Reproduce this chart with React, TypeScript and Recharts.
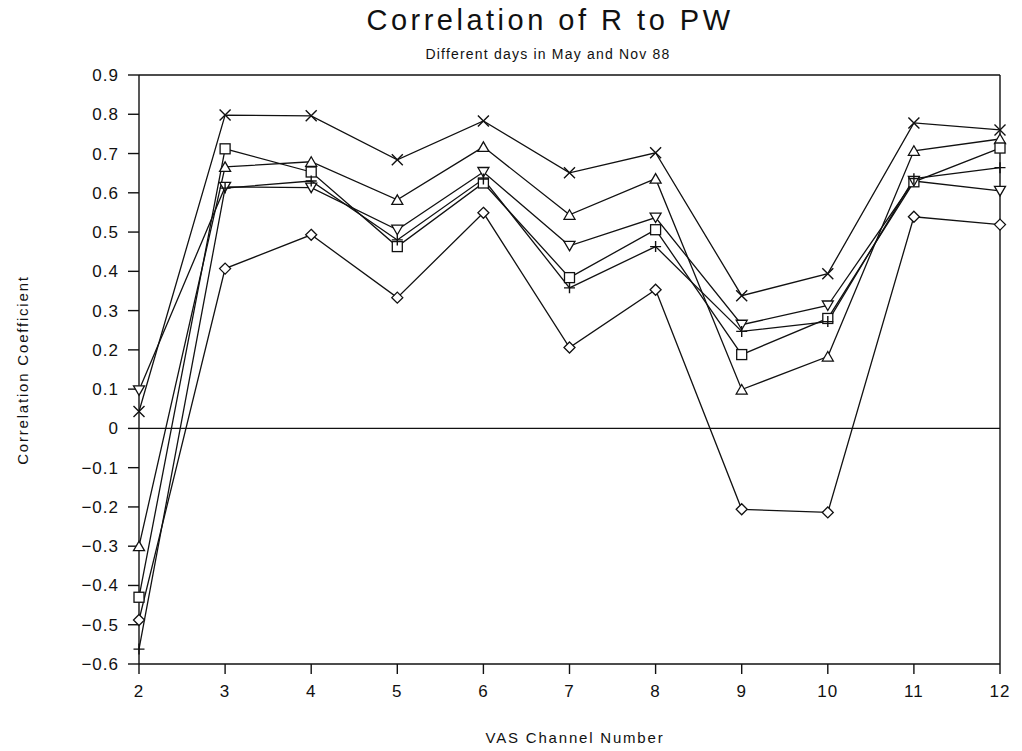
import React from "react";
import { LineChart, Line, XAxis, YAxis, ReferenceLine } from "recharts";

const channels = [2, 3, 4, 5, 6, 7, 8, 9, 10, 11, 12];
const crossVals = [0.043, 0.798, 0.796, 0.684, 0.783, 0.651, 0.702, 0.338, 0.394, 0.778, 0.76];
const triUpVals = [-0.3, 0.666, 0.679, 0.582, 0.717, 0.544, 0.636, 0.099, 0.183, 0.707, 0.737];
const squareVals = [-0.43, 0.712, 0.653, 0.463, 0.625, 0.384, 0.506, 0.188, 0.28, 0.628, 0.714];
const triDownVals = [0.097, 0.615, 0.613, 0.506, 0.653, 0.465, 0.537, 0.264, 0.313, 0.63, 0.605];
const plusVals = [-0.562, 0.612, 0.63, 0.48, 0.635, 0.358, 0.463, 0.247, 0.272, 0.636, 0.664];
const diamondVals = [-0.488, 0.407, 0.493, 0.333, 0.549, 0.206, 0.353, -0.206, -0.214, 0.539, 0.519];

const yTicks = [0.9, 0.8, 0.7, 0.6, 0.5, 0.4, 0.3, 0.2, 0.1, 0, -0.1, -0.2, -0.3, -0.4, -0.5, -0.6];

const data = channels.map((ch, i) => ({
  ch,
  cross: crossVals[i],
  triUp: triUpVals[i],
  square: squareVals[i],
  triDown: triDownVals[i],
  plus: plusVals[i],
  diamond: diamondVals[i],
}));

const FONT = "'Liberation Sans', Arial, sans-serif";
const INK = "#111";

// hand-drawn plotter style markers
function Marker(props: any) {
  const { cx, cy, shape } = props;
  if (cx == null || cy == null) return null;
  const s = 5.5;
  const common = { stroke: INK, strokeWidth: 1.3, fill: "#fff" };
  switch (shape) {
    case "cross":
      return (
        <path d={`M${cx - s},${cy - s}L${cx + s},${cy + s}M${cx - s},${cy + s}L${cx + s},${cy - s}`} stroke={INK} strokeWidth={1.4} fill="none" />
      );
    case "plus":
      return (
        <path d={`M${cx - s},${cy}L${cx + s},${cy}M${cx},${cy - s}L${cx},${cy + s}`} stroke={INK} strokeWidth={1.4} fill="none" />
      );
    case "square":
      return <rect x={cx - 5} y={cy - 5} width={10} height={10} {...common} />;
    case "triUp":
      return <path d={`M${cx},${cy - 5}L${cx + 5.5},${cy + 4.5}L${cx - 5.5},${cy + 4.5}Z`} {...common} />;
    case "triDown":
      return <path d={`M${cx},${cy + 5}L${cx + 5.5},${cy - 4.5}L${cx - 5.5},${cy - 4.5}Z`} {...common} />;
    case "diamond":
      return <path d={`M${cx},${cy - 5.5}L${cx + 5.5},${cy}L${cx},${cy + 5.5}L${cx - 5.5},${cy}Z`} {...common} />;
    default:
      return null;
  }
}

const fmtY = (v: number) => {
  if (Math.abs(v) < 1e-9) return "0";
  return v < 0 ? "\u2212" + Math.abs(v).toFixed(1) : v.toFixed(1);
};

function YTick(props: any) {
  const { x, y, payload } = props;
  return (
    <text x={x - 1} y={y} dy={6} textAnchor="end" fill={INK} fontSize={17} fontFamily={FONT} letterSpacing={1}>
      {fmtY(payload.value)}
    </text>
  );
}

function XTick(props: any) {
  const { x, y, payload } = props;
  return (
    <text x={x} y={y} dy={15} textAnchor="middle" fill={INK} fontSize={17} fontFamily={FONT} letterSpacing={1}>
      {payload.value}
    </text>
  );
}

const series = ["cross", "triUp", "square", "triDown", "plus", "diamond"];

export default function App() {
  return (
    <div style={{ position: "absolute", left: 0, top: 0, width: 1022, height: 751, background: "#fff", fontFamily: FONT, color: INK }}>
      {/* titles */}
      <div style={{ position: "absolute", left: 0, width: 1100, top: 4, textAlign: "center", fontSize: 29, letterSpacing: 3.5, fontWeight: 300 }}>
        Correlation of R to PW
      </div>
      <div style={{ position: "absolute", left: 0, width: 1096, top: 46, textAlign: "center", fontSize: 14, letterSpacing: 1.2 }}>
        Different days in May and Nov 88
      </div>
      <div style={{ position: "absolute", left: 0, width: 1150, top: 729, textAlign: "center", fontSize: 15, letterSpacing: 1.8 }}>
        VAS Channel Number
      </div>
      <div
        style={{
          position: "absolute",
          left: 22,
          top: 370,
          transform: "translate(-50%, -50%) rotate(-90deg)",
          whiteSpace: "nowrap",
          fontSize: 15,
          letterSpacing: 1.8,
        }}
      >
        Correlation Coefficient
      </div>

      <div style={{ position: "absolute", left: 0, top: 0 }}>
        <LineChart width={1022} height={751} data={data} margin={{ top: 75, right: 22, bottom: 57, left: 0 }}>
          <XAxis
            dataKey="ch"
            type="number"
            domain={[2, 12]}
            ticks={channels}
            axisLine={{ stroke: INK, strokeWidth: 1.4 }}
            tickLine={{ stroke: INK, strokeWidth: 1.4 }}
            tickSize={10}
            tick={<XTick />}
            tickMargin={8}
            height={30}
          />
          <YAxis
            type="number"
            domain={[-0.6, 0.9]}
            ticks={yTicks}
            axisLine={{ stroke: INK, strokeWidth: 1.4 }}
            tickLine={{ stroke: INK, strokeWidth: 1.4 }}
            tickSize={11}
            tickMargin={8}
            tick={<YTick />}
            width={139}
            allowDataOverflow
          />
          <ReferenceLine y={0} stroke={INK} strokeWidth={1.2} />
          <ReferenceLine y={0.9} stroke={INK} strokeWidth={1.4} />
          <ReferenceLine x={12} stroke={INK} strokeWidth={1.4} />
          {series.map((key) => (
            <Line
              key={key}
              dataKey={key}
              type="linear"
              stroke={INK}
              strokeWidth={1.3}
              dot={(p: any) => <Marker key={`${key}-${p.index}`} cx={p.cx} cy={p.cy} shape={key} />}
              activeDot={false}
              isAnimationActive={false}
            />
          ))}
        </LineChart>
      </div>
    </div>
  );
}
